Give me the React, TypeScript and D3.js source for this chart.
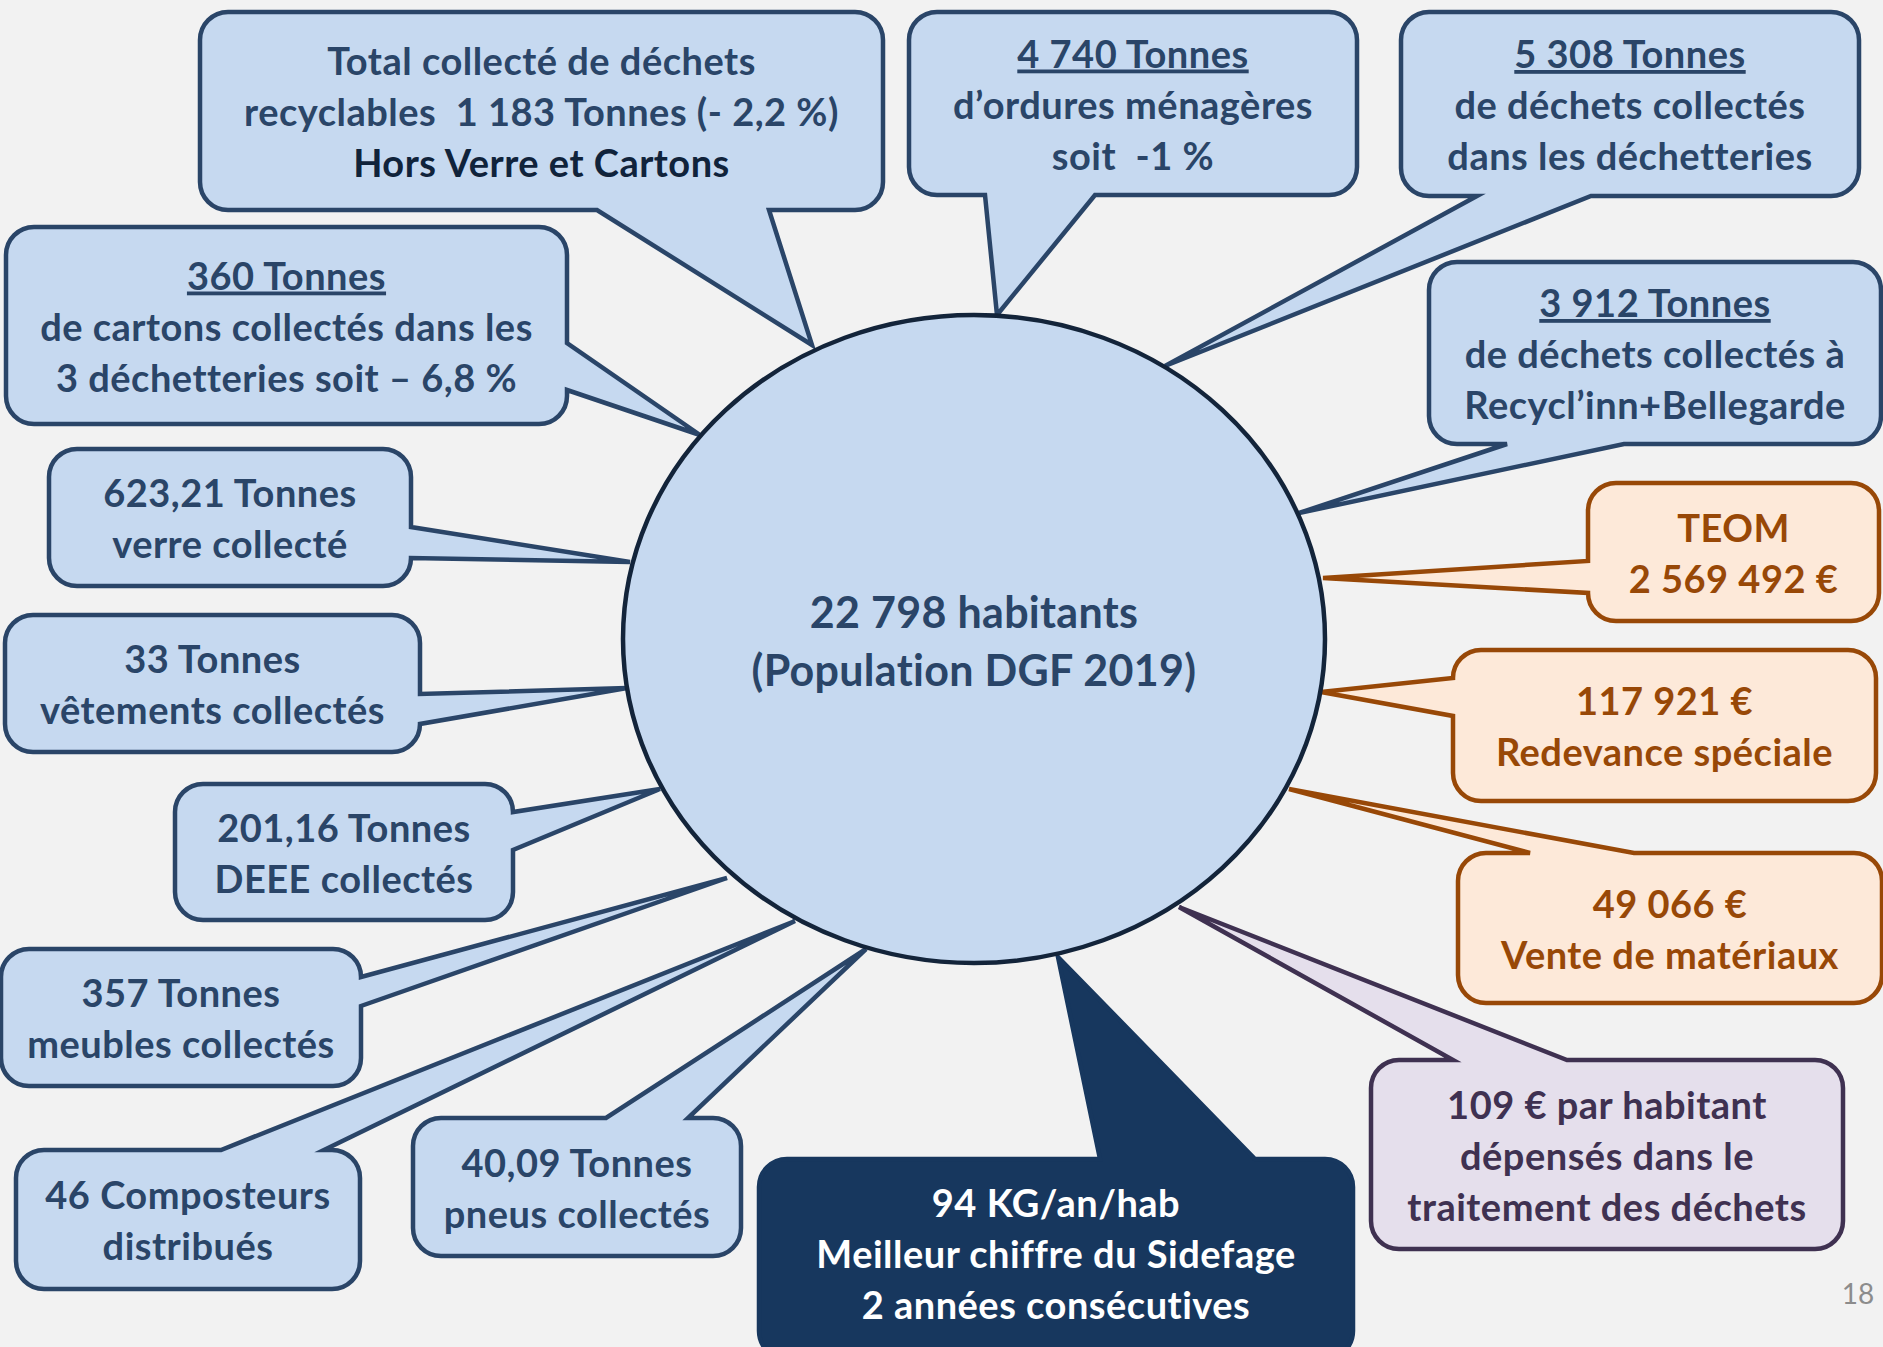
import * as d3 from "d3";
import React from "react";

const W = 1883;
const H = 1347;

// text of each callout, one entry per line
const recyclLines = ["Total collecté de déchets", "recyclables  1 183 Tonnes (- 2,2 %)", "Hors Verre et Cartons"];
const omLines = ["4 740 Tonnes", "d’ordures ménagères", "soit  -1 %"];
const dechetLines = ["5 308 Tonnes", "de déchets collectés", "dans les déchetteries"];
const recyclinnLines = ["3 912 Tonnes", "de déchets collectés à", "Recycl’inn+Bellegarde"];
const teomLines = ["TEOM", "2 569 492 €"];
const redevanceLines = ["117 921 €", "Redevance spéciale"];
const venteLines = ["49 066 €", "Vente de matériaux"];
const coutLines = ["109 € par habitant", "dépensés dans le", "traitement des déchets"];
const kgLines = ["94 KG/an/hab", "Meilleur chiffre du Sidefage", "2 années consécutives"];
const pneusLines = ["40,09 Tonnes", "pneus collectés"];
const compostLines = ["46 Composteurs", "distribués"];
const meublesLines = ["357 Tonnes", "meubles collectés"];
const deeeLines = ["201,16 Tonnes", "DEEE collectés"];
const vetementsLines = ["33 Tonnes", "vêtements collectés"];
const verreLines = ["623,21 Tonnes", "verre collecté"];
const cartonsLines = ["360 Tonnes", "de cartons collectés dans les", "3 déchetteries soit – 6,8 %"];

const centerLines = ["22 798 habitants", "(Population DGF 2019)"];
const pageNumber = "18";

const themes: Record<string, { fill: string; stroke: string; text: string }> = {
  blue: { fill: "#c6d9f0", stroke: "#2a4568", text: "#2a4568" },
  orange: { fill: "#fde9d9", stroke: "#984807", text: "#984807" },
  purple: { fill: "#e5dfec", stroke: "#3f3151", text: "#3f3151" },
  dark: { fill: "#17375e", stroke: "#17375e", text: "#ffffff" },
};

type Side = "top" | "right" | "bottom" | "left";
type Callout = {
  lines: string[];
  theme: string;
  box: [number, number, number, number];
  side: Side;
  base: [number, number];
  tip: [number, number];
  underline?: boolean;
  darkLast?: boolean;
};

// layout: box, tail base on one edge, tip touching the ellipse
const callouts: Callout[] = [
  { lines: recyclLines, theme: "blue", box: [200, 12, 683, 198], side: "bottom", base: [597, 769], tip: [812, 345], darkLast: true },
  { lines: omLines, theme: "blue", box: [909, 12, 448, 183], side: "bottom", base: [985, 1095], tip: [997, 315], underline: true },
  { lines: dechetLines, theme: "blue", box: [1401, 12, 458, 184], side: "bottom", base: [1477, 1591], tip: [1165, 366], underline: true },
  { lines: recyclinnLines, theme: "blue", box: [1429, 262, 452, 182], side: "bottom", base: [1507, 1624], tip: [1299, 513], underline: true },
  { lines: teomLines, theme: "orange", box: [1588, 483, 291, 138], side: "left", base: [561, 597], tip: [1323, 578] },
  { lines: redevanceLines, theme: "orange", box: [1453, 650, 423, 151], side: "left", base: [675, 716], tip: [1321, 692] },
  { lines: venteLines, theme: "orange", box: [1458, 853, 424, 150], side: "top", base: [1530, 1634], tip: [1289, 789] },
  { lines: coutLines, theme: "purple", box: [1371, 1060, 472, 189], side: "top", base: [1453, 1567], tip: [1179, 907] },
  { lines: kgLines, theme: "dark", box: [759, 1159, 594, 200], side: "top", base: [1100, 1255], tip: [1058, 957] },
  { lines: pneusLines, theme: "blue", box: [413, 1118, 328, 138], side: "top", base: [606, 688], tip: [866, 949] },
  { lines: compostLines, theme: "blue", box: [16, 1150, 344, 139], side: "top", base: [221, 324], tip: [795, 921] },
  { lines: meublesLines, theme: "blue", box: [1, 949, 360, 137], side: "right", base: [970, 1006], tip: [727, 878] },
  { lines: deeeLines, theme: "blue", box: [175, 784, 338, 136], side: "right", base: [807, 850], tip: [660, 789] },
  { lines: vetementsLines, theme: "blue", box: [5, 615, 415, 137], side: "right", base: [694, 728], tip: [627, 688] },
  { lines: verreLines, theme: "blue", box: [49, 449, 362, 137], side: "right", base: [527, 562], tip: [630, 562] },
  { lines: cartonsLines, theme: "blue", box: [6, 227, 561, 197], side: "right", base: [343, 390], tip: [700, 435], underline: true },
];

const ellipse = { cx: 974, cy: 639, rx: 351, ry: 324 };

function calloutPath(c: Callout, r = 28) {
  const [x, y, w, h] = c.box;
  const x2 = x + w;
  const y2 = y + h;
  const lo = Math.min(c.base[0], c.base[1]);
  const hi = Math.max(c.base[0], c.base[1]);
  const cx = (v: number) => Math.max(x + r, Math.min(x2 - r, v));
  const cy = (v: number) => Math.max(y + r, Math.min(y2 - r, v));
  const p = d3.path();
  p.moveTo(x + r, y);
  if (c.side === "top") {
    p.lineTo(cx(lo), y);
    p.lineTo(c.tip[0], c.tip[1]);
    p.lineTo(cx(hi), y);
  }
  p.lineTo(x2 - r, y);
  p.arcTo(x2, y, x2, y + r, r);
  if (c.side === "right") {
    p.lineTo(x2, cy(lo));
    p.lineTo(c.tip[0], c.tip[1]);
    p.lineTo(x2, cy(hi));
  }
  p.lineTo(x2, y2 - r);
  p.arcTo(x2, y2, x2 - r, y2, r);
  if (c.side === "bottom") {
    p.lineTo(cx(hi), y2);
    p.lineTo(c.tip[0], c.tip[1]);
    p.lineTo(cx(lo), y2);
  }
  p.lineTo(x + r, y2);
  p.arcTo(x, y2, x, y2 - r, r);
  if (c.side === "left") {
    p.lineTo(x, cy(hi));
    p.lineTo(c.tip[0], c.tip[1]);
    p.lineTo(x, cy(lo));
  }
  p.lineTo(x, y + r);
  p.arcTo(x, y, x + r, y, r);
  p.closePath();
  return p.toString();
}

const FONT = "Lato, 'Open Sans', sans-serif";
const FS = 38;
const LH = 51;

export default function App() {
  return (
    <svg
      width={W}
      height={H}
      style={{ position: "absolute", left: 0, top: 0, background: "#f2f2f2" }}
      fontFamily={FONT}
    >
      <rect width={W} height={H} fill="#f2f2f2" />
      {callouts.map((c, i) => {
        const t = themes[c.theme];
        const [x, y, w, h] = c.box;
        const midX = x + w / 2;
        const bottom = Math.min(y + h, H);
        const midY = (y + bottom) / 2;
        const y0 = midY - ((c.lines.length - 1) * LH) / 2;
        return (
          <g key={i}>
            <path
              d={calloutPath(c)}
              fill={t.fill}
              stroke={t.stroke}
              strokeWidth={4.5}
              strokeLinejoin="miter"
              strokeMiterlimit={6}
            />
            {c.lines.map((line, j) => (
              <text
                key={j}
                x={midX}
                y={y0 + j * LH + 15}
                textAnchor="middle"
                fontSize={FS}
                fontWeight={700}
                letterSpacing={0.5}
                fill={c.darkLast && j === c.lines.length - 1 ? "#10233b" : t.text}
                textDecoration={c.underline && j === 0 ? "underline" : undefined}
                style={{ whiteSpace: "pre" }}
              >
                {line}
              </text>
            ))}
          </g>
        );
      })}
      <ellipse
        cx={ellipse.cx}
        cy={ellipse.cy}
        rx={ellipse.rx}
        ry={ellipse.ry}
        fill="#c6d9f0"
        stroke="#13243a"
        strokeWidth={4.5}
      />
      {centerLines.map((line, j) => (
        <text
          key={j}
          x={ellipse.cx}
          y={612 + j * 58 + 16}
          textAnchor="middle"
          fontSize={43}
          fontWeight={700}
          letterSpacing={0.3}
          fill="#2a4568"
        >
          {line}
        </text>
      ))}
      <text x={1858} y={1304} textAnchor="middle" fontSize={28} fill="#8c8c8c">
        {pageNumber}
      </text>
    </svg>
  );
}
